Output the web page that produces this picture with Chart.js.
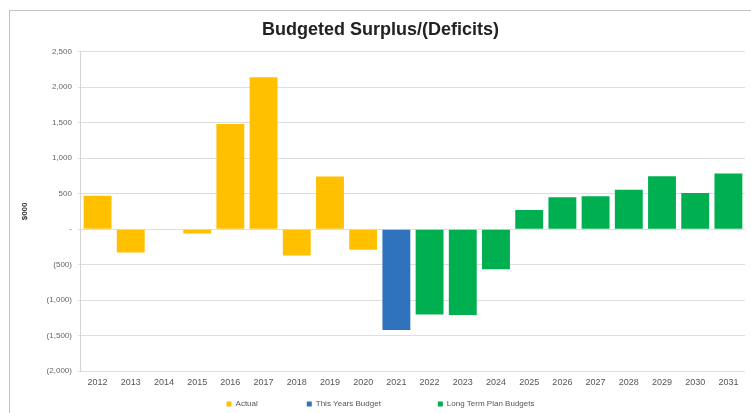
<!DOCTYPE html>
<html>
<head>
<meta charset="utf-8">
<script src="https://cdn.jsdelivr.net/npm/chart.js@4/dist/chart.umd.min.js"></script>
<style>
  html, body { margin: 0; padding: 0; background: #fff; overflow: hidden; }
  #wrap { position: absolute; left: 9px; top: 10px; width: 742px; height: 403px;
          border-left: 1px solid #c4c4c4; border-top: 1px solid #c4c4c4; box-sizing: border-box; }
  canvas { display: block; }
</style>
</head>
<body>
<div id="wrap"><canvas id="budgetChart" width="741" height="402"></canvas></div>
<script>
const years = ['2012','2013','2014','2015','2016','2017','2018','2019','2020','2021',
               '2022','2023','2024','2025','2026','2027','2028','2029','2030','2031'];

// $000
const actual = [470, -330, 0, -60, 1480, 2140, -370, 740, -290, null,
                null, null, null, null, null, null, null, null, null, null];
const thisYear = [null, null, null, null, null, null, null, null, null, -1420,
                  null, null, null, null, null, null, null, null, null, null];
const longTerm = [null, null, null, null, null, null, null, null, null, null,
                  -1200, -1210, -565, 270, 450, 465, 555, 745, 510, 785];

const fmt = function (v) {
    if (v === 0) return '-';
    const s = Math.abs(v).toLocaleString('en-US');
    return v < 0 ? '(' + s + ')' : s;
};

// extra space after legend entries, like the spread-out Excel legend
const gaps = ['\u2003'.repeat(6), '\u2003'.repeat(7), ''];

// push the legend a little lower, closer to the bottom edge
const legendNudge = {
    id: 'legendNudge',
    afterLayout: function (chart) {
        chart.legend.top += 5;
        chart.legend.bottom += 5;
    }
};

const ctx = document.getElementById('budgetChart').getContext('2d');

const myChart = new Chart(ctx, {
    type: 'bar',
    data: {
        labels: years,
        datasets: [{
            label: 'Actual',
            data: actual,
            backgroundColor: '#FFC000'
        }, {
            label: 'This Years Budget',
            data: thisYear,
            backgroundColor: '#2F72BD'
        }, {
            label: 'Long Term Plan Budgets',
            data: longTerm,
            backgroundColor: '#00B050'
        }]
    },
    options: {
        responsive: false,
        animation: false,
        layout: { padding: { left: 6, right: 6, top: 0, bottom: 0 } },
        datasets: {
            bar: { barPercentage: 0.84, categoryPercentage: 1 }
        },
        scales: {
            x: {
                stacked: true,
                grid: { display: false, drawTicks: false },
                border: { display: false },
                ticks: { color: '#555', padding: 6, font: { family: 'Liberation Sans', size: 9 }, maxRotation: 0, autoSkip: false }
            },
            y: {
                stacked: true,
                min: -2000,
                max: 2500,
                grid: { color: '#dedede', drawTicks: true, tickLength: 3 },
                border: { display: true, color: '#d4d4d4' },
                ticks: {
                    stepSize: 500,
                    padding: 6,
                    color: '#666',
                    font: { family: 'Liberation Sans', size: 8 },
                    callback: fmt
                },
                title: {
                    display: true,
                    text: '$000',
                    color: '#333',
                    padding: { top: 4, bottom: 11 },
                    font: { family: 'Liberation Sans', size: 8, weight: 'bold' }
                }
            }
        },
        plugins: {
            title: {
                display: true,
                text: 'Budgeted Surplus/(Deficits)',
                color: '#222',
                font: { family: 'Liberation Sans', size: 18, weight: 'bold' },
                padding: { top: 8, bottom: 11 }
            },
            legend: {
                position: 'bottom',
                labels: {
                    boxWidth: 5,
                    boxHeight: 5,
                    padding: 1,
                    color: '#555',
                    font: { family: 'Liberation Sans', size: 8 },
                    generateLabels: function (chart) {
                        const items = Chart.defaults.plugins.legend.labels.generateLabels(chart);
                        items.forEach(function (it, i) {
                            it.text = it.text + gaps[i];
                        });
                        return items;
                    }
                }
            },
            tooltip: { enabled: false }
        }
    },
    plugins: [legendNudge]
});
</script>
</body>
</html>
